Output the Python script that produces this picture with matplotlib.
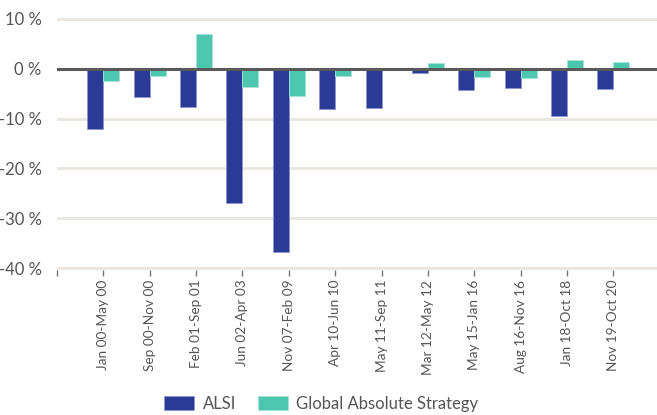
import numpy as np
import matplotlib
matplotlib.use('Agg')
import matplotlib.pyplot as plt

# Data
periods = ['Jan 00-May 00', 'Sep 00-Nov 00', 'Feb 01-Sep 01', 'Jun 02-Apr 03',
           'Nov 07-Feb 09', 'Apr 10-Jun 10', 'May 11-Sep 11', 'Mar 12-May 12',
           'May 15-Jan 16', 'Aug 16-Nov 16', 'Jan 18-Oct 18', 'Nov 19-Oct 20']
alsi = [-12.0, -5.6, -7.6, -27.0, -36.8, -8.1, -7.8, -0.9, -4.2, -3.9, -9.5, -4.0]
gas = [-2.4, -1.5, 6.9, -3.7, -5.5, -1.5, 0.0, 1.1, -1.7, -1.9, 1.7, 1.3]
y_ticks = [10, 0, -10, -20, -30, -40]

plt.rcParams['font.family'] = ['Lato', 'DejaVu Sans']

fig = plt.figure(figsize=(6.57, 4.15), dpi=100)
ax = fig.add_axes([57 / 657, 1 - 270 / 415, 1 - 57 / 657, (270 - 17) / 415])

x = np.arange(len(periods))
w = 0.345
ax.bar(x - w / 2, alsi, w, color='#2b3a96', edgecolor='#8f96cc', linewidth=0.6, label='ALSI', zorder=3)
ax.bar(x + w / 2, gas, w, color='#4ec7b0', edgecolor='#a6e3d6', linewidth=0.6,
       label='Global Absolute Strategy', zorder=3)

# a little room beyond 10 / -40 so the outer grid lines show in full
ax.set_ylim(-40.4, 10.4)
ax.set_xlim(-1, 11.94)
ax.set_yticks(y_ticks)
ax.set_yticklabels(['%d %%' % v for v in y_ticks])
for v in y_ticks:
    if v == 0:
        ax.axhline(v, color='#5a5a5a', linewidth=2.2, zorder=4)
    else:
        ax.axhline(v, color='#e9e7e0', linewidth=2.2, zorder=1)

ax.set_xticks(list(x) + [-1])
ax.set_xticklabels(periods + [''], rotation=90, fontsize=9.8, color='#555555')
ax.tick_params(axis='x', length=4, width=1, color='#777777', pad=3)
ax.tick_params(axis='y', length=0, pad=11, labelsize=12, labelcolor='#555555')

for s in ax.spines.values():
    s.set_visible(False)

fig.legend(loc='center', bbox_to_anchor=(0.489, 0.027), ncol=2, frameon=False,
           fontsize=12, labelcolor='#555555', handlelength=1.8, handleheight=0.95,
           columnspacing=1.3, handletextpad=0.5)

fig.savefig('out.png', dpi=100)
